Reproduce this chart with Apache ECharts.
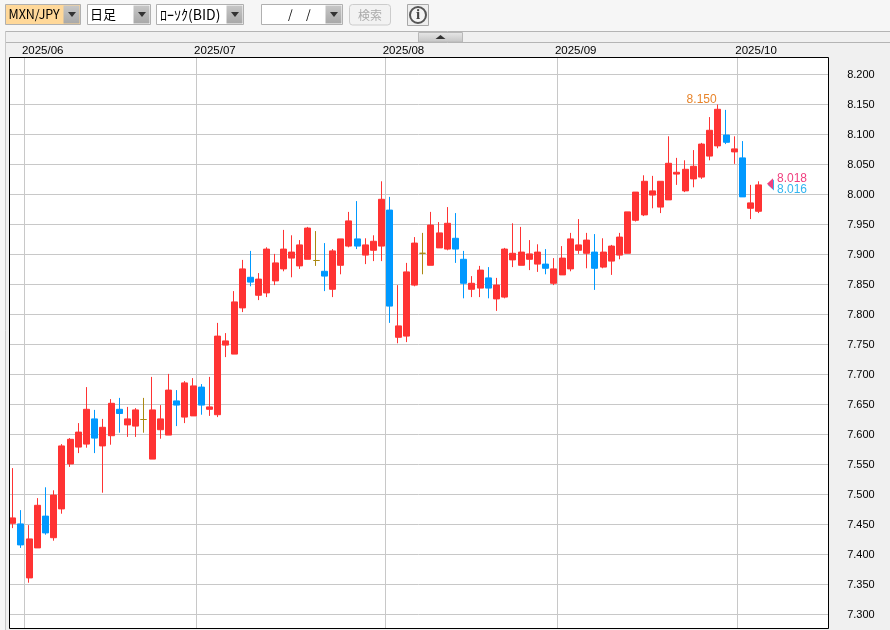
<!DOCTYPE html>
<html>
<head>
<meta charset="utf-8">
<style>html,body{margin:0;padding:0;background:#f0f0f0}#c{width:890px;height:630px}</style>
<script src="https://cdn.jsdelivr.net/npm/echarts@6/dist/echarts.min.js"></script>
</head>
<body>
<div id="c"></div>
<script>
const tradingDays = [
'2025/05/29','2025/05/30',
'2025/06/02','2025/06/03','2025/06/04','2025/06/05','2025/06/06','2025/06/09','2025/06/10','2025/06/11','2025/06/12','2025/06/13',
'2025/06/16','2025/06/17','2025/06/18','2025/06/19','2025/06/20','2025/06/23','2025/06/24','2025/06/25','2025/06/26','2025/06/27','2025/06/30',
'2025/07/01','2025/07/02','2025/07/03','2025/07/04','2025/07/07','2025/07/08','2025/07/09','2025/07/10','2025/07/11','2025/07/14','2025/07/15',
'2025/07/16','2025/07/17','2025/07/18','2025/07/21','2025/07/22','2025/07/23','2025/07/24','2025/07/25','2025/07/28','2025/07/29','2025/07/30','2025/07/31',
'2025/08/01','2025/08/04','2025/08/05','2025/08/06','2025/08/07','2025/08/08','2025/08/11','2025/08/12','2025/08/13','2025/08/14','2025/08/15',
'2025/08/18','2025/08/19','2025/08/20','2025/08/21','2025/08/22','2025/08/25','2025/08/26','2025/08/27','2025/08/28','2025/08/29',
'2025/09/01','2025/09/02','2025/09/03','2025/09/04','2025/09/05','2025/09/08','2025/09/09','2025/09/10','2025/09/11','2025/09/12',
'2025/09/15','2025/09/16','2025/09/17','2025/09/18','2025/09/19','2025/09/22','2025/09/23','2025/09/24','2025/09/25','2025/09/26','2025/09/29','2025/09/30',
'2025/10/01','2025/10/02','2025/10/03'];
const futureDays = ['2025/10/06','2025/10/07','2025/10/08','2025/10/09','2025/10/10','2025/10/13','2025/10/14','2025/10/15'];
const monthStarts = ['2025/06/02','2025/07/01','2025/08/01','2025/09/01','2025/10/01'];

const opens = [7.452,7.451,7.361,7.411,7.464,7.428,7.476,7.551,7.579,7.584,7.626,7.581,7.598,7.642,7.616,7.614,7.625,7.559,7.608,7.599,7.656,7.629,7.631,7.679,7.642,7.633,
7.749,7.734,7.811,7.862,7.832,7.836,7.856,7.876,7.894,7.881,7.892,7.890,7.872,7.842,7.882,7.914,7.926,7.899,7.907,7.914,7.974,7.762,7.764,
7.849,7.902,7.882,7.911,7.909,7.927,7.892,7.842,7.844,7.861,7.826,7.829,7.891,7.882,7.892,7.884,7.884,7.852,7.866,7.876,7.907,
7.902,7.904,7.879,7.889,7.899,7.902,7.957,7.966,7.999,7.979,7.991,8.034,8.006,8.026,8.029,8.064,8.081,8.099,8.071,8.061,7.977,7.972];
const closes = [7.461,7.416,7.426,7.482,7.436,7.499,7.581,7.592,7.604,7.642,7.594,7.612,7.652,7.635,7.626,7.641,7.625,7.641,7.626,7.674,7.649,7.686,7.681,7.649,7.646,7.764,
7.756,7.821,7.876,7.854,7.859,7.909,7.886,7.909,7.904,7.916,7.944,7.890,7.864,7.906,7.926,7.956,7.914,7.916,7.922,7.992,7.814,7.781,7.871,
7.919,7.902,7.949,7.936,7.952,7.909,7.852,7.852,7.874,7.844,7.849,7.909,7.902,7.904,7.901,7.904,7.877,7.876,7.894,7.926,7.916,
7.924,7.877,7.904,7.914,7.929,7.971,8.004,8.022,8.006,8.022,8.052,8.037,8.042,8.047,8.084,8.107,8.142,8.087,8.076,7.996,7.986,8.016];
const lows = [7.444,7.411,7.353,7.411,7.433,7.423,7.468,7.546,7.569,7.578,7.569,7.503,7.583,7.603,7.596,7.596,7.603,7.559,7.593,7.599,7.614,7.619,7.631,7.633,7.631,7.629,
7.729,7.734,7.804,7.847,7.824,7.829,7.849,7.872,7.862,7.876,7.892,7.881,7.839,7.829,7.867,7.912,7.909,7.884,7.889,7.889,7.786,7.752,7.754,
7.847,7.867,7.882,7.911,7.907,7.886,7.827,7.829,7.829,7.827,7.806,7.827,7.879,7.882,7.874,7.871,7.867,7.849,7.866,7.872,7.901,
7.877,7.841,7.877,7.866,7.892,7.902,7.955,7.964,7.977,7.969,7.991,8.016,8.004,8.012,8.026,8.057,8.077,8.084,8.051,7.996,7.959,7.969];
const highs = [7.544,7.474,7.449,7.494,7.512,7.507,7.584,7.594,7.619,7.679,7.641,7.626,7.659,7.661,7.646,7.644,7.661,7.696,7.649,7.701,7.674,7.689,7.694,7.684,7.696,7.786,
7.769,7.839,7.891,7.906,7.869,7.912,7.901,7.941,7.932,7.924,7.946,7.939,7.919,7.909,7.926,7.971,7.989,7.927,7.932,8.022,7.996,7.849,7.886,
7.929,7.936,7.971,7.954,7.979,7.969,7.906,7.864,7.881,7.879,7.861,7.911,7.952,7.946,7.924,7.917,7.909,7.894,7.914,7.936,7.959,
7.936,7.934,7.927,7.916,7.936,7.971,8.004,8.032,8.031,8.022,8.097,8.061,8.057,8.074,8.086,8.129,8.150,8.141,8.097,8.089,8.016,8.022];
const priceTicks = [8.2,8.15,8.1,8.05,8.0,7.95,7.9,7.85,7.8,7.75,7.7,7.65,7.6,7.55,7.5,7.45,7.4,7.35,7.3];
const peakDay = '2025/09/26', peakPrice = 8.150;
const askPrice = 8.018, bidPrice = 8.016;

const candles = tradingDays.map((d, i) => [opens[i], closes[i], lows[i], highs[i]]);
const allDays = tradingDays.concat(futureDays);

const UI = "'Noto Sans CJK JP','Liberation Sans'";
const PLAIN = "'Liberation Sans'";
const els = [];
const R = (x, y, w, h, fill, stroke, z, r) => els.push({type:'rect', silent:true, z:z||50,
  shape:{x, y, width:w, height:h, r:r||0}, style:{fill:fill||'none', stroke:stroke||'none', lineWidth:1}});
const T = (x, y, text, font, fill, z) => els.push({type:'text', silent:true, z:z||60, x, y,
  style:{text, font, fill:fill||'#000', textVerticalAlign:'middle', textAlign:'left'}});
const tri = (cx, cy, w, h, up) => els.push({type:'polygon', silent:true, z:60,
  shape:{points: up ? [[cx-w/2,cy+h/2],[cx+w/2,cy+h/2],[cx,cy-h/2]] : [[cx-w/2,cy-h/2],[cx+w/2,cy-h/2],[cx,cy+h/2]]},
  style:{fill:'#333'}});
const btnFill = new echarts.graphic.LinearGradient(0,0,0,1,[{offset:0,color:'#c6c6c6'},{offset:1,color:'#a8a8a8'}]);

// chrome backgrounds
R(0, 0, 890, 31, '#f6f6f6');
R(0, 31, 5, 599, '#f6f6f6');
R(5, 31, 885, 12, '#f0f0f0');
R(5, 43, 4, 587, '#f0f0f0');
els.push({type:'line', silent:true, z:51, shape:{x1:5,y1:31.5,x2:890,y2:31.5}, style:{stroke:'#b4b4b4',lineWidth:1}});
els.push({type:'line', silent:true, z:51, shape:{x1:5,y1:42.5,x2:890,y2:42.5}, style:{stroke:'#b4b4b4',lineWidth:1}});
els.push({type:'line', silent:true, z:51, shape:{x1:5.5,y1:31,x2:5.5,y2:630}, style:{stroke:'#c8c8c8',lineWidth:1}});

// plot frame
R(9.5, 57.5, 819, 571, null, '#000', 55);

// combos
function combo(x, w, fill) {
  R(x+.5, 4.5, w-1, 20, fill, '#b0b0b0');
  R(x+w-17.5, 5.5, 16, 18, btnFill);
  tri(x+w-9, 14.5, 8, 5);
}
combo(5, 76, '#ffd899');
combo(87, 64, '#fff');
combo(156, 88, '#fff');
combo(261, 82, '#fff');
T(8.5, 14.5, 'MXN/JPY', "12.5px " + UI);
T(90, 14.5, '日足', "13px " + UI);
T(160, 14.5, 'ﾛｰｿｸ(BID)', "14px " + UI);
T(288, 14.5, '/', "12px " + UI);
T(306, 14.5, '/', "12px " + UI);
// search button
R(349.5, 4.5, 41, 20.5, '#f2f2f2', '#cccccc', 50, 3);
T(358, 15, '検索', "12px " + UI, '#aaaaaa');
// info button
R(407.5, 4.5, 21, 21, '#eeeeee', '#a8a8a8');
els.push({type:'circle', silent:true, z:60, shape:{cx:418,cy:15,r:8}, style:{fill:'#f4f4f4',stroke:'#555',lineWidth:2}});
els.push({type:'text', silent:true, z:61, x:418, y:15.5, style:{text:'i', font:"bold 15px 'Liberation Serif'", fill:'#444', textAlign:'center', textVerticalAlign:'middle'}});
// collapse tab
R(418.5, 32.5, 44, 9.5, new echarts.graphic.LinearGradient(0,0,0,1,[{offset:0,color:'#e8e8e8'},{offset:1,color:'#c4c4c4'}]), '#b8b8b8');
tri(440.5, 37, 10, 4, true);

const priceMin = 7.2767, priceMax = 8.2283;
const chart = echarts.init(document.getElementById('c'), null, {width:890, height:630, renderer:'canvas'});
chart.setOption({
  animation:false,
  backgroundColor:'#f0f0f0',
  grid:[
    {left:7.9, top:57.5, width:820, height:571, show:false, containLabel:false},
    {left:8.65, top:57.5, width:820, height:571, show:true, backgroundColor:'#ffffff', borderWidth:0, containLabel:false}
  ],
  xAxis:[{
    gridIndex:0, type:'category', position:'top', boundaryGap:true,
    data:allDays,
    axisLine:{show:false}, axisTick:{show:false},
    axisLabel:{
      show:true, interval:(i, v) => monthStarts.includes(v),
      formatter:v => v.slice(0,7), align:'left', margin:0.5, padding:[0,0,0,-6.5],
      color:'#000', fontFamily:PLAIN, fontSize:11.5, hideOverlap:false
    },
    splitLine:{show:true, interval:(i, v) => monthStarts.includes(v), lineStyle:{color:'#c8c8c8', width:1}}
  },{
    gridIndex:1, type:'category', boundaryGap:true, data:allDays, show:false
  }],
  yAxis:[{
    gridIndex:0, type:'value', show:false, min:priceMin, max:priceMax, splitLine:{show:false}
  },{
    gridIndex:1, type:'value', position:'right', scale:true,
    min:priceMin, max:priceMax,
    axisLine:{show:false},
    axisTick:{show:false, customValues:priceTicks},
    axisLabel:{show:true, customValues:priceTicks, formatter:v => v.toFixed(3), margin:18.5,
      color:'#000', fontFamily:PLAIN, fontSize:11, showMinLabel:true, showMaxLabel:true},
    splitLine:{show:true, lineStyle:{color:'#c8c8c8', width:1}}
  }],
  series:[{
    type:'candlestick', xAxisIndex:1, yAxisIndex:1, data:candles, barWidth:6.5, z:10,
    itemStyle:{color:'#ff3333', borderColor:'#ff3333', color0:'#0099ff', borderColor0:'#0099ff',
      borderColorDoji:'#aa8811', borderWidth:1},
    markPoint:{
      silent:true, animation:false,
      data:[
        {coord:[peakDay, peakPrice], symbolSize:0, label:{show:true, formatter:peakPrice.toFixed(3), position:'left', distance:0, offset:[-1.3,-5], color:'#e8842a', fontFamily:PLAIN, fontSize:12}},
        {coord:[92, bidPrice], symbol:'triangle', symbolRotate:90, symbolSize:[11,6], symbolOffset:[3.85,0], itemStyle:{color:'#33b5f0'}, label:{show:true, formatter:bidPrice.toFixed(3), position:'right', distance:3, offset:[0,5], color:'#33b5f0', fontFamily:PLAIN, fontSize:12}},
        {coord:[92, askPrice], symbol:'triangle', symbolRotate:90, symbolSize:[11,6], symbolOffset:[2.85,0], itemStyle:{color:'#f0407f'}, label:{show:true, formatter:askPrice.toFixed(3), position:'right', distance:4, offset:[0,-5], color:'#f0407f', fontFamily:PLAIN, fontSize:12}}
      ]
    }
  }],
  graphic:{elements:els}
});
</script>
</body>
</html>
